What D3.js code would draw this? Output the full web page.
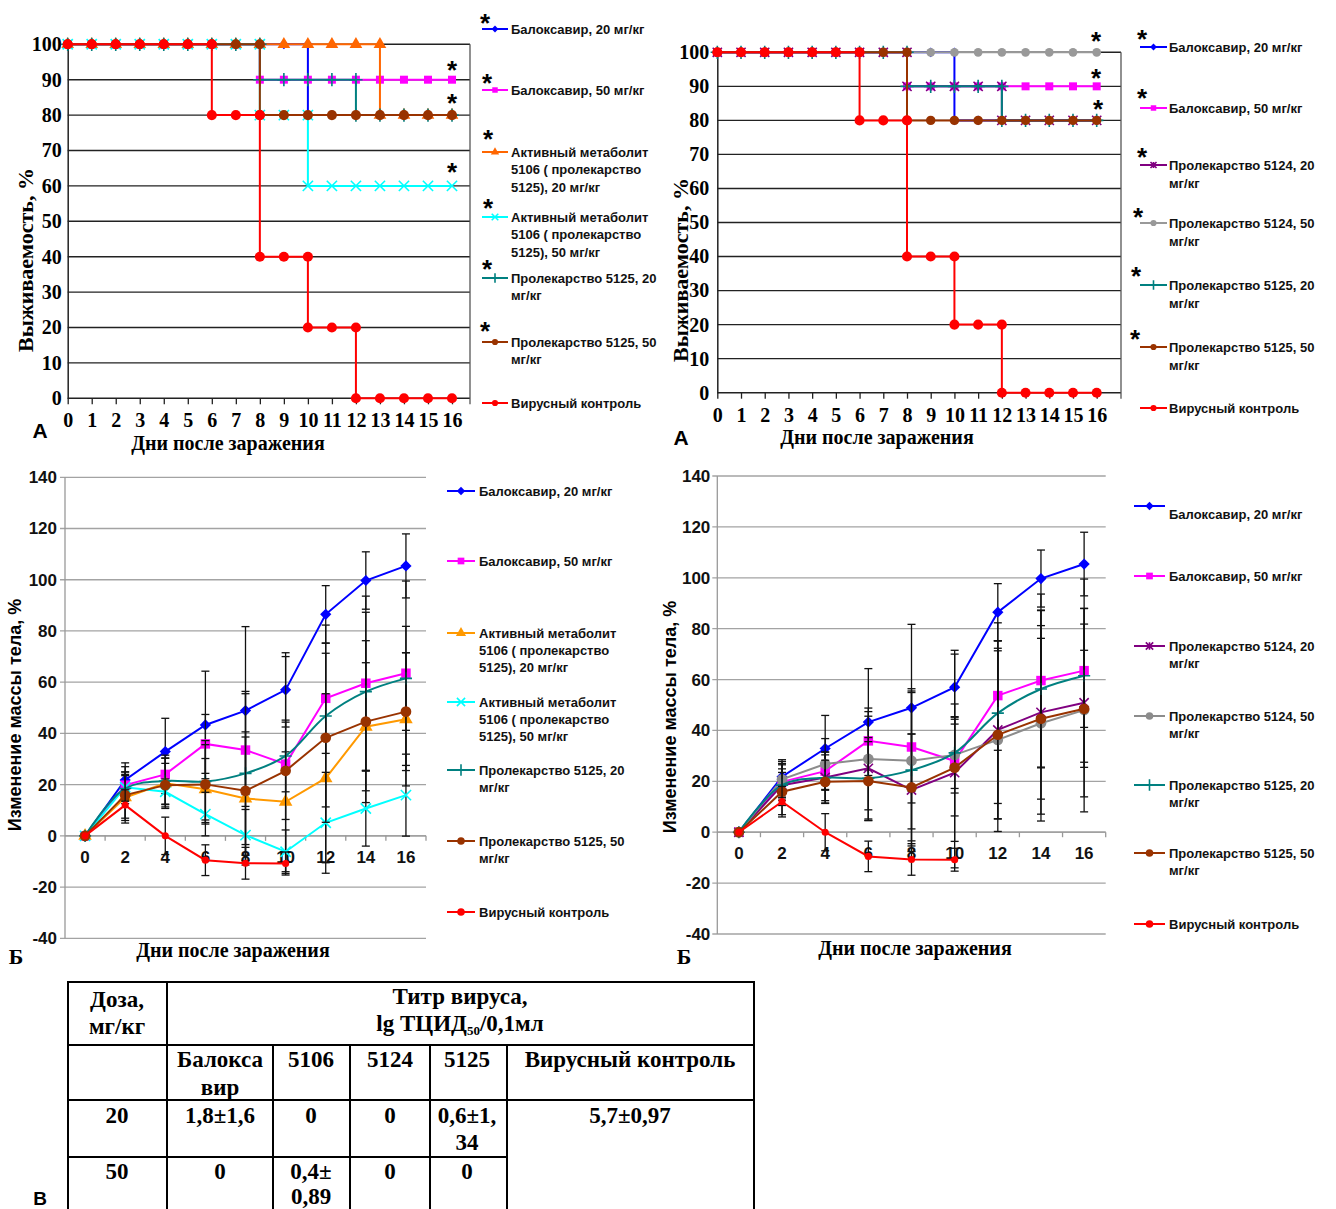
<!DOCTYPE html>
<html>
<head>
<meta charset="utf-8">
<script src="https://cdn.jsdelivr.net/npm/d3@7"></script>
<style>
  body { margin: 0; background: #fff; }
  svg { display: block; }
  .serif { font-family: "Liberation Serif", "Times New Roman", serif; font-weight: bold; }
  .sans { font-family: "Liberation Sans", Arial, sans-serif; font-weight: bold; }
</style>
</head>
<body>
<svg id="fig" width="1336" height="1209"></svg>
<script>
// ---------- data ----------
var survDays = [0, 1, 2, 3, 4, 5, 6, 7, 8, 9, 10, 11, 12, 13, 14, 15, 16];
var survTicks = [0, 10, 20, 30, 40, 50, 60, 70, 80, 90, 100];

// survival, % (value on each day)
var survBaloxa20 = [100, 100, 100, 100, 100, 100, 100, 100, 100, 100, 80, 80, 80, 80, 80, 80, 80];
var survBaloxa50 = [100, 100, 100, 100, 100, 100, 100, 100, 90, 90, 90, 90, 90, 90, 90, 90, 90];
var survMet20 = [100, 100, 100, 100, 100, 100, 100, 100, 100, 100, 100, 100, 100, 80, 80, 80, 80];
var survMet50 = [100, 100, 100, 100, 100, 100, 100, 100, 80, 80, 60, 60, 60, 60, 60, 60, 60];
var survPro25_20 = [100, 100, 100, 100, 100, 100, 100, 100, 90, 90, 90, 90, 80, 80, 80, 80, 80];
var survPro25_50 = [100, 100, 100, 100, 100, 100, 100, 100, 80, 80, 80, 80, 80, 80, 80, 80, 80];
var survPro24_20 = [100, 100, 100, 100, 100, 100, 100, 100, 90, 90, 90, 90, 80, 80, 80, 80, 80];
var survPro24_50 = [100, 100, 100, 100, 100, 100, 100, 100, 100, 100, 100, 100, 100, 100, 100, 100, 100];
var survControl = [100, 100, 100, 100, 100, 100, 80, 80, 40, 40, 20, 20, 0, 0, 0, 0, 0];

var weightDays = [0, 2, 4, 6, 8, 10, 12, 14, 16];
var weightTicks = [-40, -20, 0, 20, 40, 60, 80, 100, 120, 140];

// body weight change, % and its error
var wBaloxa20 = [0, 21.8, 32.9, 43.3, 48.9, 57, 86.5, 99.7, 105.4];
var eBaloxa20 = [0, 6.7, 13, 21, 32.8, 14.5, 11.2, 11.2, 12.5];
var wBaloxa50 = [0, 19.8, 24, 35.9, 33.5, 28, 53.7, 59.6, 63.5];
var eBaloxa50 = [0, 7.2, 7.5, 11.5, 22, 42, 21.5, 34, 36];
var wMet20 = [0, 15, 20.5, 18.2, 14.6, 13.3, 22.5, 42.6, 45.5];
var eMet20 = [0, 10, 9.8, 12, 26, 19.5, 33, 25, 26];
var wMet50 = [0, 19, 17.2, 8.5, 0.3, -6.2, 5.1, 10.7, 15.9];
var eMet50 = [0, 5, 5, 8.5, 10, 8.5, 19.7, 14.7, 16];
var wPro25_20 = [0, 18.5, 21.4, 21.2, 24.4, 31.2, 46.8, 56.3, 61.5];
var ePro25_20 = [0, 5, 9, 16, 32, 14, 35.5, 31, 20.3];
var wPro25_50 = [0, 15.9, 19.8, 20.1, 17.6, 25.4, 38.3, 44.6, 48.5];
var ePro25_50 = [0, 9, 8.5, 15.5, 21, 19, 33, 31.6, 23];
var wPro24_20 = [0, 18.5, 21.5, 25.1, 16.6, 23.4, 40.2, 47.1, 50.9];
var ePro24_20 = [0, 8, 10, 20.5, 22, 27, 35, 40, 37];
var wPro24_50 = [0, 20.8, 26.8, 28.8, 28.1, 30.4, 36.3, 42.8, 48];
var ePro24_50 = [0, 7, 10, 20, 26.8, 15, 36, 38.4, 40];
var wControl = [0, 12, 0, -9.5, -10.7, -10.8];
var eControl = [0, 6, 7.3, 6, 6.2, 4.5];

var lblBaloxa20 = ["Балоксавир, 20 мг/кг"];
var lblBaloxa50 = ["Балоксавир, 50 мг/кг"];
var lblMet20 = ["Активный метаболит", "5106 ( пролекарство", "5125), 20 мг/кг"];
var lblMet50 = ["Активный метаболит", "5106 ( пролекарство", "5125), 50 мг/кг"];
var lblPro25_20 = ["Пролекарство 5125, 20", "мг/кг"];
var lblPro25_50 = ["Пролекарство 5125, 50", "мг/кг"];
var lblPro24_20 = ["Пролекарство 5124, 20", "мг/кг"];
var lblPro24_50 = ["Пролекарство 5124, 50", "мг/кг"];
var lblControl = ["Вирусный контроль"];

// table В
var tabDoseHead = ["Доза,", "мг/кг"];
var tabTitle = "Титр вируса,";
var tabCols = [["Балокса", "вир"], ["5106"], ["5124"], ["5125"], ["Вирусный контроль"]];
var tabDoses = ["20", "50"];
var tabRow20 = [["1,8±1,6"], ["0"], ["0"], ["0,6±1,", "34"]];
var tabRow50 = [["0"], ["0,4±", "0,89"], ["0"], ["0"]];
var tabControl = "5,7±0,97";

// ---------- helpers ----------
var svg = d3.select("#fig");

var starSym = {
  draw: function (ctx, size) {
    var r = Math.sqrt(size) * 0.55;
    ctx.moveTo(-r, -r); ctx.lineTo(r, r);
    ctx.moveTo(-r, r); ctx.lineTo(r, -r);
    ctx.moveTo(0, -r); ctx.lineTo(0, r);
  }
};
var symTypes = {
  diamond: d3.symbolDiamond2 || d3.symbolDiamond,
  square: d3.symbolSquare,
  triangle: d3.symbolTriangle,
  circle: d3.symbolCircle,
  times: d3.symbolTimes || d3.symbolCross,
  plus: d3.symbolPlus || d3.symbolCross,
  star: starSym
};
var openSyms = { times: true, plus: true, star: true };

function drawMarker(g, sym, color, size, px, py) {
  var open = openSyms[sym];
  g.append("path")
    .attr("d", d3.symbol().type(symTypes[sym]).size(size)())
    .attr("transform", "translate(" + px + "," + py + ")")
    .attr("fill", open ? "none" : color)
    .attr("stroke", open ? color : "none")
    .attr("stroke-width", open ? 1.6 : 0);
}

function asterisk(x, y) {
  svg.append("text").attr("class", "sans")
    .attr("x", x).attr("y", y + 15)
    .attr("text-anchor", "middle")
    .attr("font-size", 26)
    .text("*");
}

function survivalChart(o) {
  var g = svg.append("g");
  var x = d3.scaleLinear().domain([0, 16]).range([o.left, o.day16]);
  var y = d3.scaleLinear().domain([0, 100]).range([o.bottom, o.top]);

  g.append("g").selectAll("line").data(survTicks).join("line")
    .attr("x1", o.left).attr("x2", o.right)
    .attr("y1", function (d) { return y(d); }).attr("y2", function (d) { return y(d); })
    .attr("stroke", "#222").attr("stroke-width", 1.4);

  g.append("line").attr("x1", o.right).attr("x2", o.right)
    .attr("y1", y(100)).attr("y2", y(0) + 6).attr("stroke", "#555").attr("stroke-width", 1.3);

  var xa = g.append("g").attr("transform", "translate(0," + o.bottom + ")")
    .call(d3.axisBottom(x).tickValues(survDays).tickSize(6).tickPadding(9).tickFormat(function (d) { return String(d); }));
  xa.select(".domain").remove();
  xa.attr("font-family", null).attr("font-size", null);
  xa.selectAll("line").attr("stroke", "#222").attr("stroke-width", 1.3);
  xa.selectAll("text").attr("class", "serif").attr("font-size", 20).attr("fill", "#000");

  var ya = g.append("g").attr("transform", "translate(" + o.left + ",0)")
    .call(d3.axisLeft(y).tickValues(survTicks).tickSize(0).tickPadding(o.ypad).tickFormat(function (d) { return String(d); }));
  ya.attr("font-family", null).attr("font-size", null);
  ya.select(".domain").attr("stroke", "#222").attr("stroke-width", 1.5);
  ya.selectAll("text").attr("class", "serif").attr("font-size", 20).attr("fill", "#000");

  var line = d3.line()
    .x(function (d, i) { return x(survDays[i]); })
    .y(function (d) { return y(d); })
    .curve(d3.curveStepAfter);

  o.series.forEach(function (s) {
    g.append("path").datum(s.values).attr("d", line)
      .attr("fill", "none").attr("stroke", s.color).attr("stroke-width", 2);
    var mg = g.append("g");
    s.values.forEach(function (v, i) {
      if (i > 0 && s.values[i - 1] !== v) drawMarker(mg, s.sym, s.color, s.size, x(survDays[i]), y(s.values[i - 1]));
      drawMarker(mg, s.sym, s.color, s.size, x(survDays[i]), y(v));
    });
  });

  svg.append("text").attr("class", "serif").attr("font-size", 22)
    .attr("transform", "translate(" + o.ytitle[0] + "," + o.ytitle[1] + ") rotate(-90)")
    .attr("text-anchor", "middle").attr("dominant-baseline", "central")
    .text("Выживаемость, %");
  svg.append("text").attr("class", "serif").attr("font-size", 20)
    .attr("x", o.xtitle[0]).attr("y", o.xtitle[1])
    .attr("text-anchor", "middle").attr("dominant-baseline", "central")
    .text("Дни после заражения");
  svg.append("text").attr("class", "sans").attr("font-size", 21)
    .attr("x", o.letter[0]).attr("y", o.letter[1])
    .attr("text-anchor", "middle").attr("dominant-baseline", "central")
    .text("А");
}

function weightChart(o) {
  var g = svg.append("g");
  var x = d3.scaleBand().domain(weightDays).range([o.left, o.right]);
  var cx = function (d) { return x(d) + x.bandwidth() / 2; };
  var y = d3.scaleLinear().domain([-40, 140]).range([o.bottom, o.top]);

  g.append("g").selectAll("line").data(weightTicks).join("line")
    .attr("x1", o.left - 5).attr("x2", o.right)
    .attr("y1", function (d) { return y(d); }).attr("y2", function (d) { return y(d); })
    .attr("stroke", "#a3a3a3").attr("stroke-width", 1.3);
  g.append("line").attr("x1", o.left).attr("x2", o.left)
    .attr("y1", y(140)).attr("y2", y(-40)).attr("stroke", "#999").attr("stroke-width", 1.3);
  // x axis on zero line with ticks between categories
  g.append("line").attr("x1", o.left).attr("x2", o.right)
    .attr("y1", y(0)).attr("y2", y(0)).attr("stroke", "#999").attr("stroke-width", 1.3);
  g.append("g").selectAll("line").data(weightDays).join("line")
    .attr("x1", function (d) { return x(d) + x.bandwidth(); })
    .attr("x2", function (d) { return x(d) + x.bandwidth(); })
    .attr("y1", y(0)).attr("y2", y(0) + 5).attr("stroke", "#999").attr("stroke-width", 1.3);

  var ya = g.append("g").attr("transform", "translate(" + o.left + ",0)")
    .call(d3.axisLeft(y).tickValues(weightTicks).tickSize(0).tickPadding(o.ypad).tickFormat(function (d) { return String(d); }));
  ya.select(".domain").remove();
  ya.attr("font-family", null).attr("font-size", null);
  ya.selectAll("text").attr("class", "sans").attr("font-size", 17).attr("fill", "#111");

  var xa = g.append("g").attr("transform", "translate(0," + y(0) + ")")
    .call(d3.axisBottom(x).tickSize(0).tickPadding(15));
  xa.select(".domain").remove();
  xa.attr("font-family", null).attr("font-size", null);
  xa.selectAll("text").attr("class", "sans").attr("font-size", 17).attr("fill", "#111");

  o.series.forEach(function (s) {
    var eg = g.append("g").attr("stroke", "#111").attr("stroke-width", 1.3);
    s.values.forEach(function (v, i) {
      var e = s.err[i];
      if (!e) return;
      var px = cx(weightDays[i]);
      eg.append("line").attr("x1", px).attr("x2", px).attr("y1", y(v + e)).attr("y2", y(v - e));
      eg.append("line").attr("x1", px - 4).attr("x2", px + 4).attr("y1", y(v + e)).attr("y2", y(v + e));
      eg.append("line").attr("x1", px - 4).attr("x2", px + 4).attr("y1", y(v - e)).attr("y2", y(v - e));
    });
    var line = d3.line()
      .x(function (d, i) { return cx(weightDays[i]); })
      .y(function (d) { return y(d); })
      .curve(s.smooth ? d3.curveCatmullRom.alpha(0.5) : d3.curveLinear);
    g.append("path").datum(s.values).attr("d", line)
      .attr("fill", "none").attr("stroke", s.color).attr("stroke-width", 2);
    var mg = g.append("g");
    s.values.forEach(function (v, i) {
      drawMarker(mg, s.sym, s.color, s.wsize, cx(weightDays[i]), y(v));
    });
  });

  svg.append("text").attr("class", "sans").attr("font-size", 18)
    .attr("transform", "translate(" + o.ytitle[0] + "," + o.ytitle[1] + ") rotate(-90)")
    .attr("text-anchor", "middle").attr("dominant-baseline", "central")
    .text("Изменение массы тела, %");
  svg.append("text").attr("class", "serif").attr("font-size", 20)
    .attr("x", o.xtitle[0]).attr("y", o.xtitle[1])
    .attr("text-anchor", "middle").attr("dominant-baseline", "central")
    .text("Дни после заражения");
  svg.append("text").attr("class", "serif").attr("font-size", 22)
    .attr("x", o.letter[0]).attr("y", o.letter[1])
    .attr("text-anchor", "middle").attr("dominant-baseline", "central")
    .text("Б");
}

function legend(o) {
  var g = svg.append("g");
  o.series.forEach(function (s, i) {
    var yy = o.ys[i];
    g.append("line").attr("x1", o.x1).attr("x2", o.x2).attr("y1", yy).attr("y2", yy)
      .attr("stroke", s.color).attr("stroke-width", 2);
    drawMarker(g, s.sym, s.color, o.msize, (o.x1 + o.x2) / 2, yy);
    var t = g.append("text").attr("class", "sans").attr("font-size", 13).attr("fill", "#111");
    s.label.forEach(function (ln, k) {
      t.append("tspan").attr("x", o.tx).attr("y", yy + (o.dy ? o.dy[i] : 0) + k * o.lh + 4.5).text(ln);
    });
  });
  (o.stars || []).forEach(function (p) { asterisk(p[0], p[1]); });
}

// ---------- series styles ----------
var sBaloxa20 = { color: "#0000ff", sym: "diamond", size: 60, wsize: 80, label: lblBaloxa20 };
var sBaloxa50 = { color: "#ff00ff", sym: "square", size: 64, wsize: 90, label: lblBaloxa50 };
var sControl = { color: "#ff0000", sym: "circle", size: 80, wsize: 40, label: lblControl };

survivalChart({
  left: 67.7, day16: 452, right: 470, top: 44.3, bottom: 398.3, ypad: 6,
  ytitle: [25, 260], xtitle: [228, 443], letter: [40, 430],
  series: [
    Object.assign({}, sBaloxa20, { values: survBaloxa20 }),
    Object.assign({}, sBaloxa50, { values: survBaloxa50 }),
    { color: "#ff6600", sym: "triangle", size: 70, values: survMet20 },
    { color: "#00ffff", sym: "times", size: 70, values: survMet50 },
    { color: "#008080", sym: "plus", size: 60, values: survPro25_20 },
    { color: "#993300", sym: "circle", size: 80, values: survPro25_50 },
    Object.assign({}, sControl, { values: survControl })
  ]
});
[[452, 64], [452, 97], [452, 166]].forEach(function (p) { asterisk(p[0], p[1]); });

survivalChart({
  left: 717.3, day16: 1096.7, right: 1121, top: 52.3, bottom: 392.7, ypad: 8,
  ytitle: [680, 270], xtitle: [877, 437], letter: [681, 437],
  series: [
    Object.assign({}, sBaloxa20, { values: survBaloxa20 }),
    Object.assign({}, sBaloxa50, { values: survBaloxa50 }),
    { color: "#800080", sym: "star", size: 70, values: survPro24_20 },
    { color: "#999999", sym: "circle", size: 60, values: survPro24_50 },
    { color: "#008080", sym: "plus", size: 60, values: survPro25_20 },
    { color: "#993300", sym: "circle", size: 70, values: survPro25_50 },
    Object.assign({}, sControl, { values: survControl })
  ]
});
[[1096, 35], [1096, 72], [1098, 103]].forEach(function (p) { asterisk(p[0], p[1]); });

legend({
  x1: 482, x2: 508, tx: 511, lh: 17.5, msize: 30,
  ys: [29, 90, 152, 217, 278, 342, 403],
  stars: [[485, 17], [487, 77], [488, 133], [488, 202], [487, 263], [485, 325]],
  series: [sBaloxa20, sBaloxa50,
    { color: "#ff6600", sym: "triangle", label: lblMet20 },
    { color: "#00ffff", sym: "times", label: lblMet50 },
    { color: "#008080", sym: "plus", label: lblPro25_20 },
    { color: "#993300", sym: "circle", label: lblPro25_50 },
    sControl]
});
legend({
  x1: 1140, x2: 1167, tx: 1169, lh: 18, msize: 30,
  ys: [47, 108, 165, 223, 285, 347, 408],
  stars: [[1142, 33], [1142, 92], [1142, 151], [1138, 211], [1136, 270], [1135, 333]],
  series: [sBaloxa20, sBaloxa50,
    { color: "#800080", sym: "star", label: lblPro24_20 },
    { color: "#999999", sym: "circle", label: lblPro24_50 },
    { color: "#008080", sym: "plus", label: lblPro25_20 },
    { color: "#993300", sym: "circle", label: lblPro25_50 },
    sControl]
});

weightChart({
  left: 65, right: 426, top: 477.3, bottom: 938.3, ypad: 8,
  ytitle: [15, 715], xtitle: [233, 950], letter: [16, 956],
  series: [
    Object.assign({}, sBaloxa20, { values: wBaloxa20, err: eBaloxa20 }),
    Object.assign({}, sBaloxa50, { values: wBaloxa50, err: eBaloxa50 }),
    { color: "#ff9900", sym: "triangle", wsize: 80, values: wMet20, err: eMet20 },
    { color: "#00ffff", sym: "times", wsize: 70, values: wMet50, err: eMet50 },
    { color: "#008080", sym: "plus", wsize: 50, values: wPro25_20, err: ePro25_20, smooth: true },
    { color: "#993300", sym: "circle", wsize: 90, values: wPro25_50, err: ePro25_50 },
    Object.assign({}, sControl, { values: wControl, err: eControl })
  ]
});
weightChart({
  left: 717.3, right: 1105.7, top: 476, bottom: 934, ypad: 7,
  ytitle: [670, 717], xtitle: [915, 948], letter: [684, 956],
  series: [
    Object.assign({}, sBaloxa20, { values: wBaloxa20, err: eBaloxa20 }),
    Object.assign({}, sBaloxa50, { values: wBaloxa50, err: eBaloxa50 }),
    { color: "#800080", sym: "star", wsize: 70, values: wPro24_20, err: ePro24_20 },
    { color: "#8c8c8c", sym: "circle", wsize: 90, values: wPro24_50, err: ePro24_50 },
    { color: "#008080", sym: "plus", wsize: 50, values: wPro25_20, err: ePro25_20, smooth: true },
    { color: "#993300", sym: "circle", wsize: 90, values: wPro25_50, err: ePro25_50 },
    Object.assign({}, sControl, { values: wControl, err: eControl })
  ]
});

legend({
  x1: 447, x2: 475, tx: 479, lh: 17, msize: 45,
  ys: [491, 561, 633, 702, 770, 841, 912],
  series: [sBaloxa20, sBaloxa50,
    { color: "#ff9900", sym: "triangle", label: lblMet20 },
    { color: "#00ffff", sym: "times", label: lblMet50 },
    { color: "#008080", sym: "plus", label: lblPro25_20 },
    { color: "#993300", sym: "circle", label: lblPro25_50 },
    sControl]
});
legend({
  x1: 1134, x2: 1165, tx: 1169, lh: 17.5, msize: 45,
  ys: [506, 576, 646, 716, 785, 853, 924],
  dy: [8, 0, 0, 0, 0, 0, 0],
  series: [sBaloxa20, sBaloxa50,
    { color: "#800080", sym: "star", label: lblPro24_20 },
    { color: "#8c8c8c", sym: "circle", label: lblPro24_50 },
    { color: "#008080", sym: "plus", label: lblPro25_20 },
    { color: "#993300", sym: "circle", label: lblPro25_50 },
    sControl]
});

// ---------- table В ----------
(function () {
  var g = svg.append("g");
  var cols = [68, 167, 273, 350, 430, 507, 754];
  var rows = [982, 1045, 1100, 1157, 1215];
  function ln(x1, y1, x2, y2) {
    g.append("line").attr("x1", x1).attr("y1", y1).attr("x2", x2).attr("y2", y2)
      .attr("stroke", "#000").attr("stroke-width", 2);
  }
  ln(cols[0] - 1, rows[0], cols[6] + 1, rows[0]);
  ln(cols[0], rows[0], cols[0], rows[4]);
  ln(cols[1], rows[0], cols[1], rows[4]);
  ln(cols[6], rows[0], cols[6], rows[4]);
  ln(cols[0], rows[1], cols[6], rows[1]);
  ln(cols[0], rows[2], cols[6], rows[2]);
  ln(cols[0], rows[3], cols[5], rows[3]);
  [2, 3, 4, 5].forEach(function (c) { ln(cols[c], rows[1], cols[c], rows[4]); });

  function txt(x, y, s) {
    return g.append("text").attr("class", "serif").attr("font-size", 23)
      .attr("x", x).attr("y", y + 7).attr("text-anchor", "middle").text(s);
  }
  txt(117, 1000, tabDoseHead[0]);
  txt(117, 1027, tabDoseHead[1]);
  txt(460, 997, tabTitle);
  var t = txt(460, 1024, "lg ТЦИД");
  t.append("tspan").attr("font-size", 13).attr("dy", 4).text("50");
  t.append("tspan").attr("dy", -4).text("/0,1мл");

  var centers = [220, 311, 390, 467, 630];
  tabCols.forEach(function (c, i) {
    c.forEach(function (s, k) { txt(centers[i], 1060 + k * 28, s); });
  });
  txt(117, 1116, tabDoses[0]);
  txt(117, 1172, tabDoses[1]);
  tabRow20.forEach(function (c, i) {
    c.forEach(function (s, k) { txt(centers[i], 1116 + k * 27, s); });
  });
  tabRow50.forEach(function (c, i) {
    c.forEach(function (s, k) { txt(centers[i], 1172 + k * 25, s); });
  });
  txt(centers[4], 1116, tabControl);

  svg.append("text").attr("class", "sans").attr("font-size", 19)
    .attr("x", 40).attr("y", 1198).attr("text-anchor", "middle").attr("dominant-baseline", "central")
    .text("В");
})();
</script>
</body>
</html>
